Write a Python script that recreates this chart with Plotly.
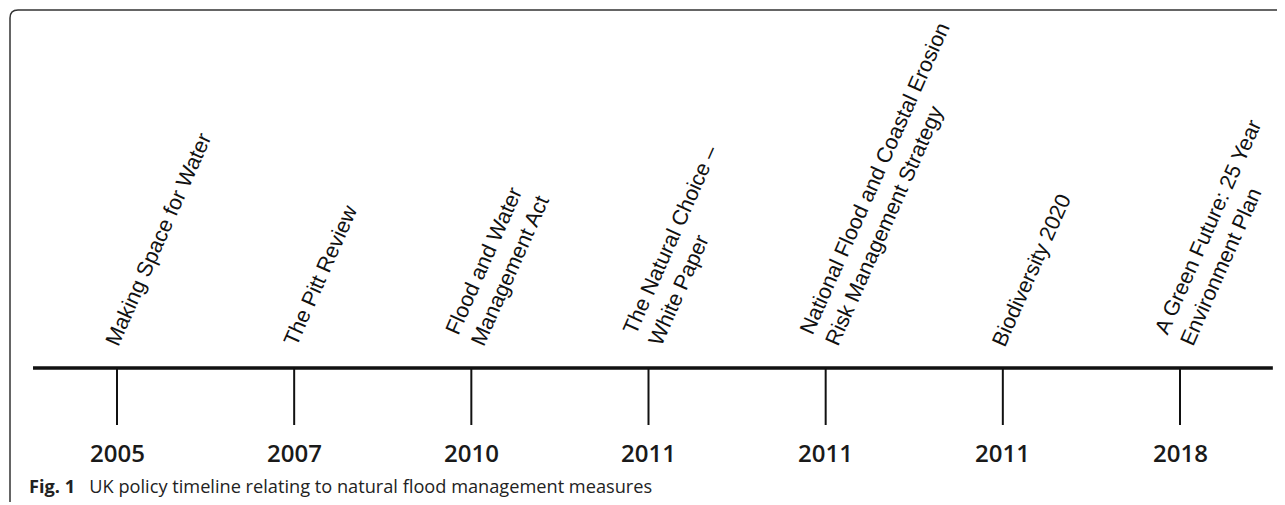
import math
import plotly.graph_objects as go

# ---- data ----
policies = [
    "Making Space for Water",
    "The Pitt Review",
    "Flood and Water<br>Management Act",
    "The Natural Choice \u2013<br>White Paper",
    "National Flood and Coastal Erosion<br>Risk Management Strategy",
    "Biodiversity 2020",
    "A Green Future: 25 Year<br>Environment Plan",
]
years = ["2005", "2007", "2010", "2011", "2011", "2011", "2018"]
caption_bold = "Fig. 1"
caption_text = "UK policy timeline relating to natural flood management measures"

positions = list(range(len(policies)))

# page body has an 8px margin; lay out in reference pixels minus that offset
OFF = 8
W, H = 1285 - OFF, 505 - OFF
ANGLE = 66
LABEL_SIZE = 21.5
LINE_H = LABEL_SIZE * 1.3
BASE_Y = 368 - OFF

fig = go.Figure()

# main horizontal timeline
fig.add_trace(go.Scatter(
    x=[positions[0] - 0.474, positions[-1] + 0.524], y=[0, 0],
    mode="lines", line=dict(color="#111111", width=3.5),
    hoverinfo="skip", showlegend=False,
))

# tick stems
tx, ty = [], []
for p in positions:
    tx += [p, p, None]
    ty += [0, -57, None]
fig.add_trace(go.Scatter(
    x=tx, y=ty, mode="lines", line=dict(color="#111111", width=2),
    hoverinfo="skip", showlegend=False,
))

# year labels
for p, yr in zip(positions, years):
    fig.add_annotation(
        x=p, y=-84, text=yr, showarrow=False, xanchor="center", yanchor="middle",
        font=dict(family="Open Sans", size=24, color="#1a1a1a", weight=600),
    )

# rotated policy labels
for p, name in zip(positions, policies):
    n = name.count("<br>") + 1
    h = n * LINE_H + 2
    start = 9 if n == 1 else 20
    fig.add_annotation(
        x=p, y=0, text=name, showarrow=False, textangle=-ANGLE,
        xanchor="left", yanchor="bottom", align="left",
        xshift=start - h * math.sin(math.radians(ANGLE)), yshift=16,
        font=dict(family="Liberation Sans", size=LABEL_SIZE, color="#111111"),
    )

# caption
fig.add_annotation(
    xref="paper", yref="paper", x=(27 - OFF) / W, y=1 - (486 - OFF) / H,
    text="<b>" + caption_bold + "</b>\u00a0\u00a0\u00a0" + caption_text,
    showarrow=False, xanchor="left", yanchor="middle",
    font=dict(family="Open Sans", size=18.2, color="#222222"),
)

# frame (rounded corner top-left)
x0 = (10 - OFF) / W
yt = 1 - (10 - OFF) / H
yb = 1 - (502 - OFF) / H
rx = 8 / W
ry = 8 / H
fig.add_shape(
    type="path", xref="paper", yref="paper",
    path=f"M {x0},{yb} L {x0},{yt - ry} Q {x0},{yt} {x0 + rx},{yt} L 1.0,{yt}",
    line=dict(color="#333333", width=1.5),
)

scale = (1180 - 117) / (positions[-1] - positions[0])
xmin = positions[0] - (117 - OFF) / scale
xmax = xmin + W / scale

fig.update_layout(
    width=W, height=H,
    margin=dict(l=0, r=0, t=0, b=0),
    paper_bgcolor="white", plot_bgcolor="white",
    xaxis=dict(range=[xmin, xmax], visible=False, fixedrange=True),
    yaxis=dict(range=[BASE_Y - H, BASE_Y], visible=False, fixedrange=True),
    showlegend=False,
)

fig.write_html("out.html")
